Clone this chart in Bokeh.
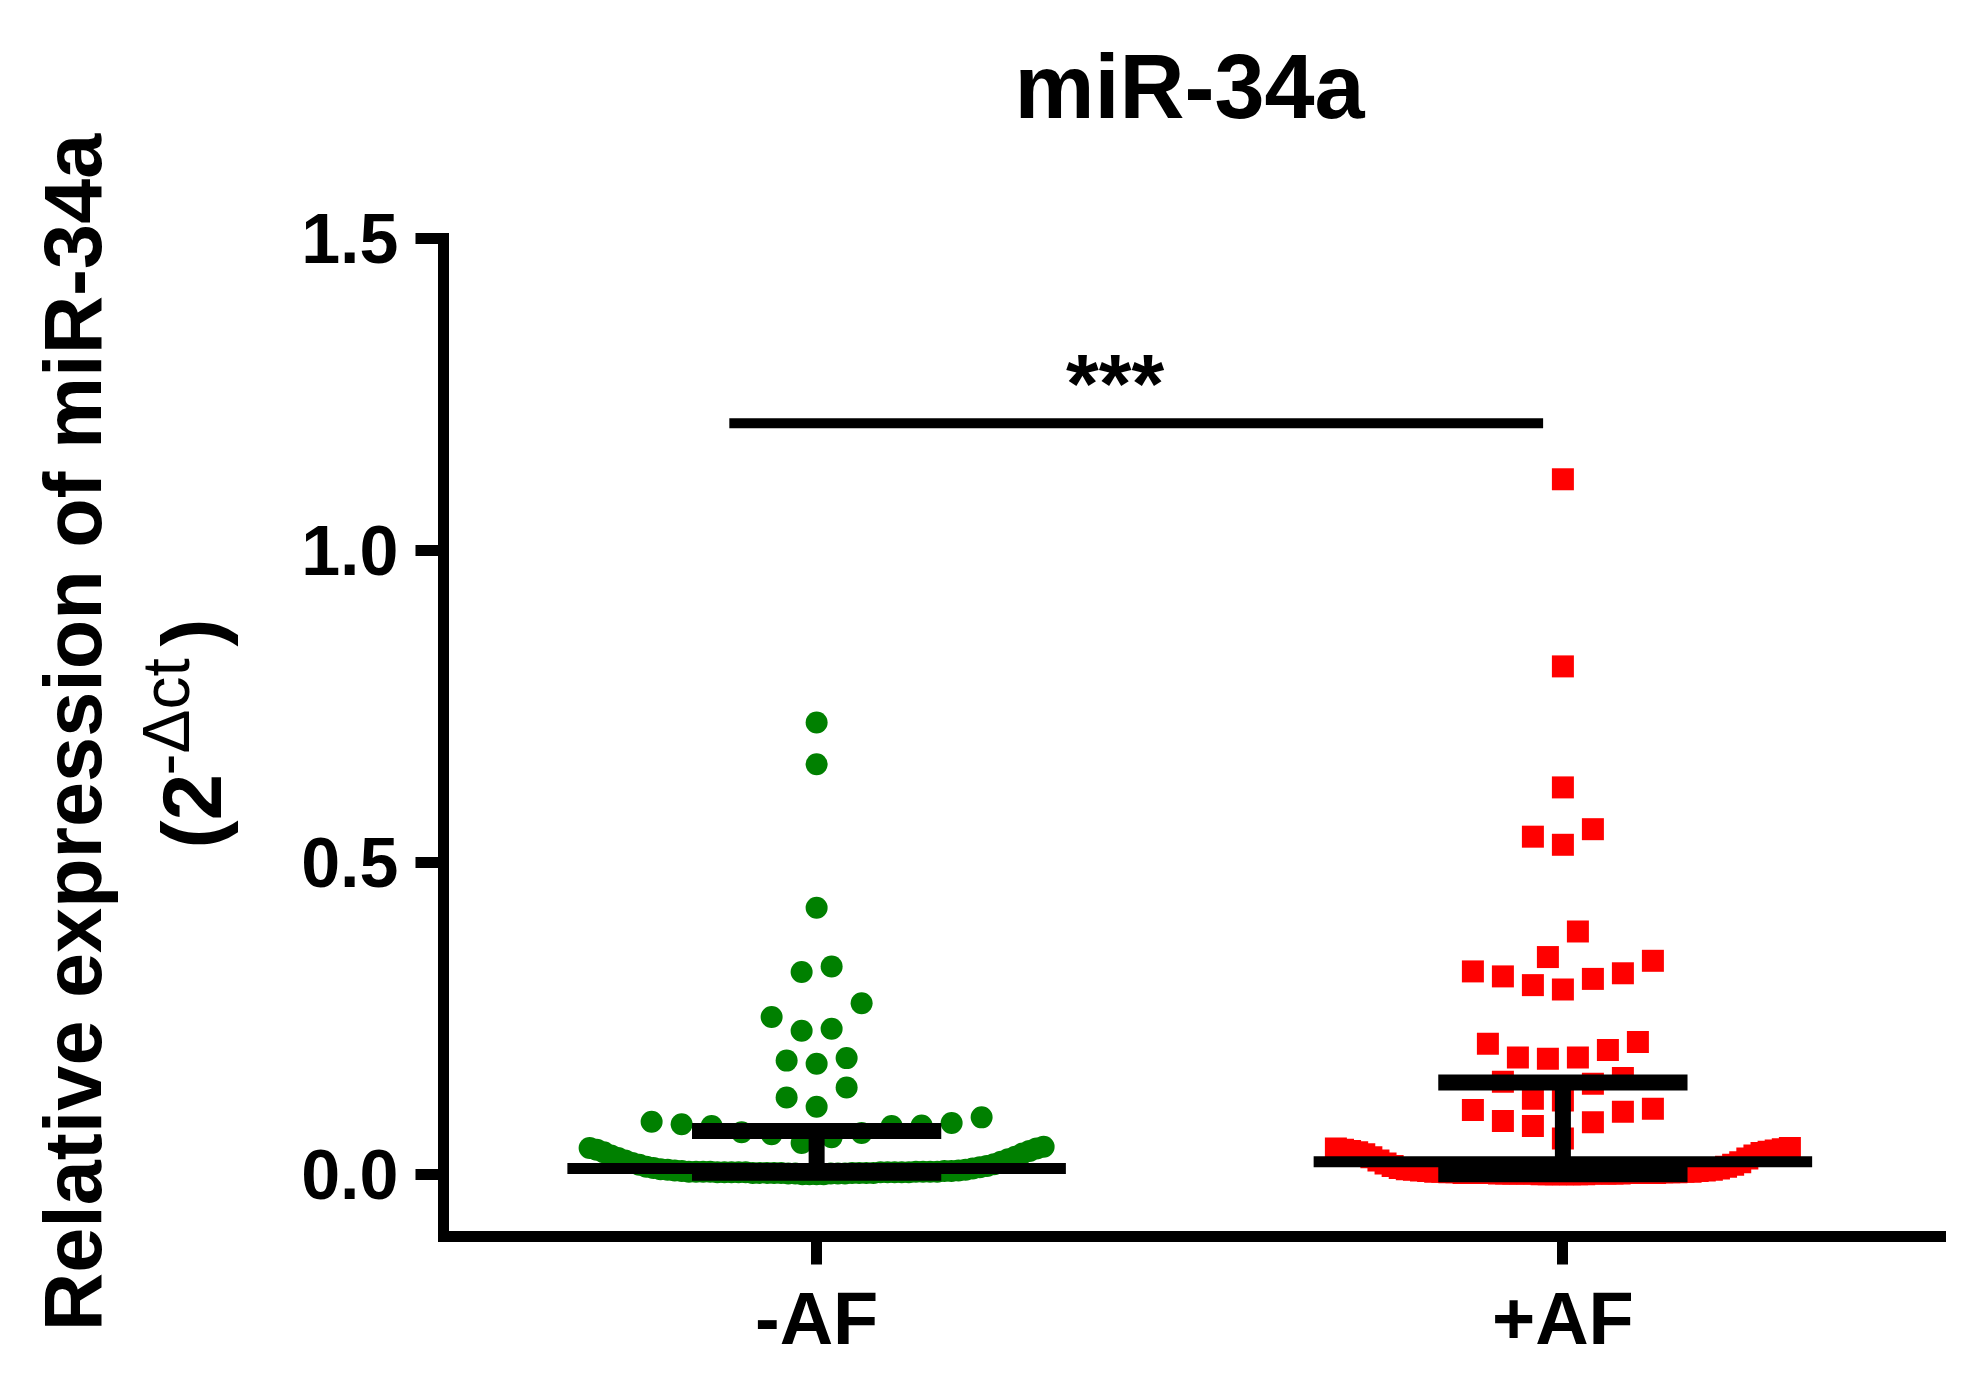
import numpy as np
from bokeh.plotting import figure
from bokeh.layouts import column, row
from bokeh.models import Range1d, FixedTicker, Label, ColumnDataSource
from bokeh.core.properties import value
from bokeh.embed import file_html
from bokeh.resources import INLINE

# ---------------- data ----------------
categories = ["-AF", "+AF"]

neg_af = [0.724, 0.657, 0.427, 0.333, 0.324, 0.274, 0.252, 0.233, 0.230,
          0.186, 0.182, 0.177, 0.139, 0.123, 0.108,
          0.091, 0.084, 0.082, 0.080, 0.078, 0.077, 0.077, 0.067, 0.066,
          0.064, 0.059, 0.050,
          0.000, 0.000, 0.000, 0.000, 0.001, 0.001, 0.001, 0.001, 0.001, 0.002,
          0.002, 0.002, 0.002, 0.002, 0.002, 0.002, 0.002, 0.002, 0.003, 0.003,
          0.003, 0.003, 0.003, 0.003, 0.003, 0.003, 0.003, 0.003, 0.004, 0.004,
          0.004, 0.004, 0.004, 0.004, 0.004, 0.004, 0.005, 0.005, 0.005, 0.006,
          0.006, 0.007, 0.007, 0.008, 0.009, 0.010, 0.011, 0.012, 0.013, 0.015,
          0.016, 0.018, 0.020, 0.022, 0.024, 0.026, 0.028, 0.030, 0.033, 0.035,
          0.037, 0.039, 0.041, 0.042, 0.044]

pos_af = [1.114, 0.814, 0.620, 0.553, 0.541, 0.528, 0.389, 0.348,
          0.342, 0.325, 0.322, 0.317, 0.313, 0.303, 0.296,
          0.212, 0.209, 0.199, 0.187, 0.187, 0.185,
          0.154, 0.148, 0.145, 0.121, 0.118,
          0.105, 0.103, 0.100, 0.085, 0.083, 0.077, 0.057,
          0.000, 0.000, 0.000, 0.000, 0.000, 0.000, 0.000, 0.001, 0.001, 0.001,
          0.001, 0.001, 0.001, 0.001, 0.001, 0.001, 0.001, 0.001, 0.002, 0.002,
          0.002, 0.002, 0.002, 0.002, 0.002, 0.002, 0.002, 0.002, 0.003, 0.003,
          0.003, 0.003, 0.003, 0.004, 0.004, 0.004, 0.004, 0.005, 0.005, 0.006,
          0.006, 0.007, 0.007, 0.008, 0.009, 0.010, 0.012, 0.013, 0.015, 0.017,
          0.019, 0.022, 0.025, 0.027, 0.030, 0.032, 0.034, 0.035, 0.036, 0.037,
          0.038, 0.039, 0.040, 0.041, 0.042]

median_vals = [0.009, 0.020]
q1_vals = [0.0024, 0.000]
q3_vals = [0.069, 0.147]

y_ticks = [0.0, 0.5, 1.0, 1.5]
y_tick_labels = ["0.0", "0.5", "1.0", "1.5"]

sig_level = 1.204
sig_text = "***"
title_text = "miR-34a"
ylabel_text = "Relative expression of miR-34a"

# ---------------- layout constants ----------------
FONT = "Liberation Sans"
FRAME_W, FRAME_H = 1497, 998
X_RANGE = (-0.5, 1.506)
PX_PER_X = FRAME_W / (X_RANGE[1] - X_RANGE[0])
ROW_THR = 0.049       # values within this of a row's first value share a row
SLOT_PX = 30.0        # horizontal spacing of symbols in a row
HALF_W_PX = 227.0     # half width available for a row

LEFT_W = 280          # width of the y-title strip
TOP_H = 200           # height of the title strip
BORDER_L, BORDER_R, BORDER_T, BORDER_B = 163, 20, 38, 145
PLOT_W = BORDER_L + FRAME_W + BORDER_R
PLOT_H = BORDER_T + FRAME_H + BORDER_B
TOTAL_H = TOP_H + PLOT_H


def scatter_layout(vals, center):
    v = np.sort(np.asarray(vals, dtype=float))
    rows, cur = [], [v[0]]
    for val in v[1:]:
        if val - cur[0] > ROW_THR + 1e-9:
            rows.append(cur)
            cur = [val]
        else:
            cur.append(val)
    rows.append(cur)
    xs, ys = [], []
    for r in rows:
        n = len(r)
        s = SLOT_PX if n == 1 else min(SLOT_PX, 2 * HALF_W_PX / (n - 1))
        slots = [(i - (n - 1) / 2.0) * s for i in range(n)]
        order = sorted(range(n), key=lambda i: (abs(slots[i]), slots[i]))
        for rank, si in enumerate(order):
            xs.append(center + slots[si] / PX_PER_X)
            ys.append(r[rank])
    return xs, ys


def no_align(f):
    try:
        f.frame_align = False
    except Exception:
        pass


gx, gy = scatter_layout(neg_af, 0)
rx, ry = scatter_layout(pos_af, 1)

# ---------------- main plot ----------------
p = figure(frame_width=FRAME_W, frame_height=FRAME_H,
           x_range=Range1d(*X_RANGE), y_range=Range1d(-0.1, 1.5),
           output_backend="svg", toolbar_location=None,
           min_border_left=BORDER_L, min_border_right=BORDER_R,
           min_border_top=BORDER_T, min_border_bottom=BORDER_B)
no_align(p)
p.grid.visible = False
p.outline_line_color = None
p.background_fill_color = "white"
p.border_fill_color = "white"

p.scatter(gx, gy, marker="circle", size=22, fill_color="#008000", line_color=None)
p.scatter(rx, ry, marker="square", size=22, fill_color="#FF0000", line_color=None)

# median with interquartile range
cx = np.arange(len(categories), dtype=float)
src = ColumnDataSource(dict(cx=cx, med=median_vals, q1=q1_vals, q3=q3_vals,
                            lw=cx - 0.334, rw=cx + 0.334,
                            lc=cx - 0.167, rc=cx + 0.167))
p.segment(x0="lw", y0="med", x1="rw", y1="med", source=src,
          line_width=11, line_color="black", line_cap="butt")
p.segment(x0="cx", y0="q1", x1="cx", y1="q3", source=src,
          line_width=16, line_color="black", line_cap="butt")
p.segment(x0="lc", y0="q3", x1="rc", y1="q3", source=src,
          line_width=16, line_color="black", line_cap="butt")
p.segment(x0="lc", y0="q1", x1="rc", y1="q1", source=src,
          line_width=16, line_color="black", line_cap="butt")

# significance bar
p.segment(x0=[cx[0] - 0.117], y0=[sig_level], x1=[cx[1] - 0.0265], y1=[sig_level],
          line_width=10, line_color="black", line_cap="butt")
p.add_layout(Label(x=cx[0] + 0.40, y=sig_level + 0.063, text=sig_text,
                   text_align="center", text_baseline="alphabetic",
                   text_font=FONT, text_font_style="bold",
                   text_font_size="84px", text_color="black"))

# axes
for ax in (p.xaxis, p.yaxis):
    ax.axis_line_width = 11
    ax.axis_line_color = "black"
    ax.axis_line_cap = "square"
    ax.major_tick_line_width = 11
    ax.major_tick_line_color = "black"
    ax.major_tick_out = 28
    ax.major_tick_in = 0
    ax.minor_tick_line_color = None
    ax.major_label_text_font = FONT
    ax.major_label_text_font_style = "bold"
    ax.major_label_text_font_size = "70px"
    ax.major_label_text_color = "black"

p.xaxis.ticker = FixedTicker(ticks=list(cx))
p.xaxis.major_label_overrides = {float(i): c for i, c in enumerate(categories)}
p.xaxis.major_label_text_font_size = "74px"
p.xaxis.major_label_standoff = 12
p.yaxis.ticker = FixedTicker(ticks=y_ticks)
p.yaxis.major_label_overrides = {t: l for t, l in zip(y_ticks, y_tick_labels)}
p.yaxis.major_label_standoff = 17


def text_panel(w, h):
    f = figure(width=w, height=h, x_range=Range1d(0, w), y_range=Range1d(0, h),
               output_backend="svg", toolbar_location=None, min_border=0,
               min_border_left=0, min_border_right=0,
               min_border_top=0, min_border_bottom=0,
               x_axis_location=None, y_axis_location=None, title=None)
    no_align(f)
    f.grid.visible = False
    f.outline_line_color = None
    f.background_fill_color = "white"
    f.border_fill_color = "white"
    return f


# ---------------- title strip (above the plot) ----------------
t = text_panel(PLOT_W, TOP_H)
t.text(x=[1189 - LEFT_W], y=[TOP_H - 86], text=[title_text], text_align="center",
       text_baseline="alphabetic", text_font=value(FONT), text_font_style="bold",
       text_font_size=value("90px"), text_color="black")

# ---------------- y title strip (full height, left) ----------------
yl = text_panel(LEFT_W, TOTAL_H)
ang = np.pi / 2
yl.text(x=[72], y=[TOTAL_H - 732], text=[ylabel_text], angle=ang, text_align="center",
        text_baseline="alphabetic", text_font=value(FONT), text_font_style="bold",
        text_font_size=value("81px"), text_color="black")
yl.text(x=[191, 191], y=[TOTAL_H - 848, TOTAL_H - 646], text=["(2", ")"], angle=ang,
        text_align="left", text_baseline="alphabetic", text_font=value(FONT),
        text_font_style="bold", text_font_size=value("84px"), text_color="black")
yl.text(x=[165], y=[TOTAL_H - 775], text=["-\u0394ct"], angle=ang,
        text_align="left", text_baseline="alphabetic", text_font=value(FONT),
        text_font_style="normal", text_font_size=value("66px"), text_color="black")

layout = row(yl, column(t, p, spacing=0), spacing=0)
open("out.html", "w").write(file_html(layout, INLINE))
